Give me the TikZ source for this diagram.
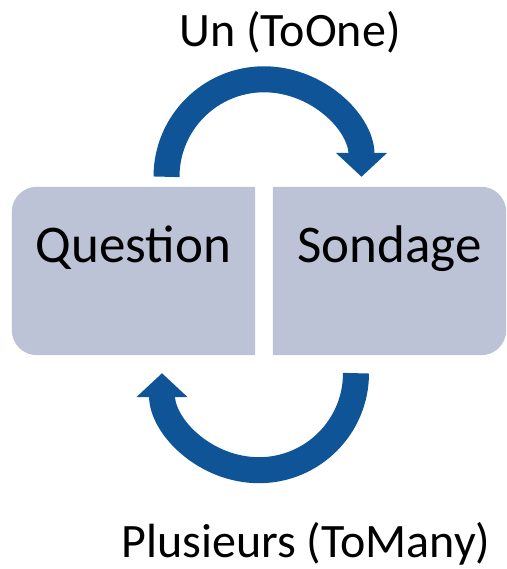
\documentclass[tikz,border=0pt]{standalone}
\usepackage{fontspec}
\setmainfont{Carlito}
\usetikzlibrary{positioning,arrows.meta,backgrounds}
\definecolor{boxfill}{RGB}{189,195,214}
\definecolor{arrowblue}{RGB}{14,84,150}

\begin{document}
\begin{tikzpicture}[x=1pt, y=1pt,
      entity/.style={inner sep=0pt, text height=76pt, text depth=92pt, align=center,
        font=\fontsize{53}{60}\selectfont},
      rel/.style={anchor=base, inner sep=0pt, font=\fontsize{48}{56}\selectfont},
      loop/.style={arrowblue, line width=26pt, -{Triangle[length=24pt, width=50pt]}}
    ]
    \useasboundingbox (0,0) rectangle (506,569);

    \node[entity, minimum width=243pt] (question) at (133.5,298) {Question};
    \node[entity, minimum width=233pt] (sondage) at (389.5,298) {Sondage};

    \node[rel] (toone) at (290,522) {Un (ToOne)};
    \node[rel] (tomany) at (306,12) {Plusieurs (ToMany)};

    % box shapes, rounded on the outer side only
    \begin{scope}[on background layer]
      \fill[boxfill] (question.north east) -- (question.south east)
        -- ([xshift=25pt]question.south west) arc[start angle=270, end angle=180, radius=25pt]
        -- ([yshift=-25pt]question.north west) arc[start angle=180, end angle=90, radius=25pt]
        -- cycle;
      \fill[boxfill] (sondage.north west) -- (sondage.south west)
        -- ([xshift=-25pt]sondage.south east) arc[start angle=270, end angle=360, radius=25pt]
        -- ([yshift=-25pt]sondage.north east) arc[start angle=0, end angle=90, radius=25pt]
        -- cycle;
    \end{scope}

    \draw[loop] ([shift={(33pt,10pt)}]question.north)
      arc[start angle=180, end angle=0, radius=97.5pt];
    \draw[loop] ([shift={(-33.5pt,-18pt)}]sondage.south)
      arc[start angle=0, end angle=-180, radius=97pt];
  \end{tikzpicture}
\end{document}
